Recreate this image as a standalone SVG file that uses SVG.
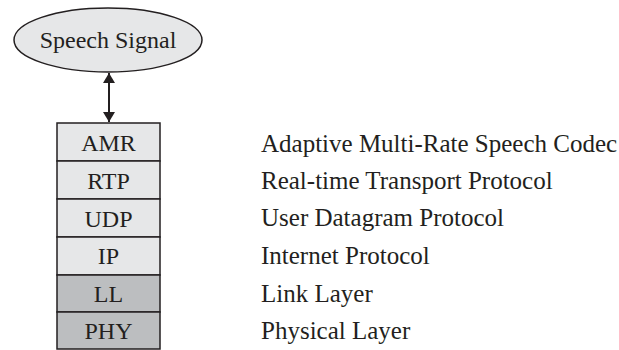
<svg xmlns="http://www.w3.org/2000/svg" width="619" height="350" viewBox="0 0 619 350">
<defs>
<marker id="ah" viewBox="0 0 10 12" refX="10" refY="6" markerWidth="10" markerHeight="12" markerUnits="userSpaceOnUse" orient="auto-start-reverse">
<path d="M0,0 L10,6 L0,12 Z" fill="#231f20"/>
</marker>
<style>
text{font-family:"Liberation Serif","Times New Roman",serif;font-size:24px;fill:#231f20}
.c{text-anchor:middle}
.r{font-size:25px}
.l{fill:#e6e7e8;stroke:#231f20;stroke-width:1.5}
.d{fill:#bcbec0;stroke:#231f20;stroke-width:1.5}
</style>
</defs>
<rect width="619" height="350" fill="#ffffff"/>
<g id="speech">
<ellipse cx="108" cy="40" rx="94" ry="32" class="l"/>
<text x="108" y="48" class="c">Speech Signal</text>
</g>
<g id="connectors">
<line x1="109" y1="73" x2="109" y2="122" stroke="#231f20" stroke-width="2" marker-start="url(#ah)" marker-end="url(#ah)"/>
</g>
<g id="amr"><rect x="57" y="123" width="103" height="38" class="l"/><text x="108.5" y="151" class="c">AMR</text></g>
<g id="rtp"><rect x="57" y="161" width="103" height="38" class="l"/><text x="108.5" y="189" class="c">RTP</text></g>
<g id="udp"><rect x="57" y="199" width="103" height="38" class="l"/><text x="108.5" y="227" class="c">UDP</text></g>
<g id="ip"><rect x="57" y="237" width="103" height="38" class="l"/><text x="108.5" y="264" class="c">IP</text></g>
<g id="ll"><rect x="57" y="275" width="103" height="37" class="d"/><text x="108.5" y="302" class="c">LL</text></g>
<g id="phy"><rect x="57" y="312" width="103" height="37" class="d"/><text x="108.5" y="339" class="c">PHY</text></g>
<g id="labels">
<text x="261" y="152" class="r">Adaptive Multi-Rate Speech Codec</text>
<text x="261" y="189" class="r">Real-time Transport Protocol</text>
<text x="261" y="226" class="r">User Datagram Protocol</text>
<text x="261" y="264" class="r">Internet Protocol</text>
<text x="261" y="302" class="r">Link Layer</text>
<text x="261" y="339" class="r">Physical Layer</text>
</g>
</svg>
